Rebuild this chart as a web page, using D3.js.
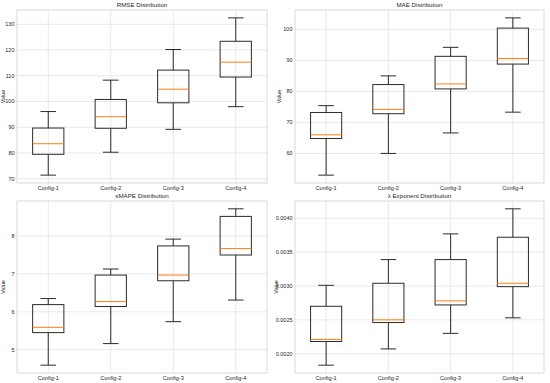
<!DOCTYPE html>
<html><head><meta charset="utf-8">
<script src="https://cdn.jsdelivr.net/npm/d3@7"></script>
<style>body{margin:0;background:#fff}svg{display:block}text{font-family:"Liberation Sans",Arial,sans-serif;fill:#262626}</style>
</head><body><svg id="c" width="550" height="383"></svg>
<script>
const categories = ["Config-1","Config-2","Config-3","Config-4"];
const titles = ["RMSE Distribution","MAE Distribution","sMAPE Distribution","\u03bb Exponent Distribution"];
// each box: [low whisker, Q1, median, Q3, high whisker]
const rmseStats = [[71.4,79.5,83.6,89.7,96.1],[80.3,89.6,94.1,100.8,108.3],[89.2,99.5,104.8,112.2,120.2],[98.0,109.5,115.3,123.4,132.5]];
const maeStats = [[53.0,64.8,66.0,73.2,75.4],[60.0,72.8,74.2,82.2,85.0],[66.6,80.8,82.4,91.3,94.2],[73.3,88.8,90.6,100.4,103.7]];
const smapeStats = [[4.59,5.45,5.59,6.19,6.35],[5.16,6.14,6.27,6.97,7.13],[5.74,6.82,6.97,7.74,7.92],[6.31,7.50,7.67,8.52,8.72]];
const lambdaStats = [[0.00183,0.00218,0.00221,0.00270,0.00301],[0.00207,0.00246,0.00250,0.00304,0.00339],[0.00230,0.00272,0.00278,0.00339,0.00377],[0.00253,0.00299,0.00304,0.00372,0.00414]];
const rmseTicks = [70,80,90,100,110,120,130];
const maeTicks = [60,70,80,90,100];
const smapeTicks = [5,6,7,8];
const lambdaTicks = [0.0020,0.0025,0.0030,0.0035,0.0040];
const tickFormats = [d3.format("d"), d3.format("d"), d3.format("d"), d3.format(".4f")];

const panels = [
  {stats: rmseStats, ticks: rmseTicks, box:[17,10,267,183]},
  {stats: maeStats, ticks: maeTicks, box:[295,10,544,183]},
  {stats: smapeStats, ticks: smapeTicks, box:[17,201,267,373]},
  {stats: lambdaStats, ticks: lambdaTicks, box:[295,201,544,373]}
];
const svg = d3.select("#c");
panels.forEach((p,i)=>{
  const [x0,y0,x1,y1] = p.box;
  const g = svg.append("g");
  const all = p.stats.flat();
  const mn = d3.min(all), mx = d3.max(all), pad = (mx-mn)*0.05;
  const y = d3.scaleLinear().domain([mn-pad, mx+pad]).range([y1,y0]);
  const x = d3.scaleBand().domain(categories).range([x0,x1]);
  const bw = x.bandwidth()*0.5, cw = bw*0.5;
  // grid
  g.selectAll(".hg").data(p.ticks).join("line")
    .attr("x1",x0).attr("x2",x1).attr("y1",d=>y(d)).attr("y2",d=>y(d))
    .attr("stroke","#e3e3e3").attr("stroke-width",0.8);
  g.selectAll(".vg").data(categories).join("line")
    .attr("x1",d=>x(d)+x.bandwidth()/2).attr("x2",d=>x(d)+x.bandwidth()/2).attr("y1",y0).attr("y2",y1)
    .attr("stroke","#e3e3e3").attr("stroke-width",0.8);
  // frame
  g.append("rect").attr("x",x0).attr("y",y0).attr("width",x1-x0).attr("height",y1-y0)
    .attr("fill","none").attr("stroke","#d0d0d0").attr("stroke-width",0.8);
  // boxes
  p.stats.forEach((s,j)=>{
    const cx = x(categories[j]) + x.bandwidth()/2;
    const bg = g.append("g").attr("stroke","#2b2b2b").attr("stroke-width",1).attr("fill","none");
    bg.append("line").attr("x1",cx).attr("x2",cx).attr("y1",y(s[0])).attr("y2",y(s[1]));
    bg.append("line").attr("x1",cx).attr("x2",cx).attr("y1",y(s[3])).attr("y2",y(s[4]));
    bg.append("line").attr("x1",cx-cw/2).attr("x2",cx+cw/2).attr("y1",y(s[0])).attr("y2",y(s[0]));
    bg.append("line").attr("x1",cx-cw/2).attr("x2",cx+cw/2).attr("y1",y(s[4])).attr("y2",y(s[4]));
    bg.append("rect").attr("x",cx-bw/2).attr("y",y(s[3])).attr("width",bw).attr("height",y(s[1])-y(s[3]));
    g.append("line").attr("x1",cx-bw/2).attr("x2",cx+bw/2).attr("y1",y(s[2])).attr("y2",y(s[2]))
      .attr("stroke","#ff7f0e").attr("stroke-width",1);
  });
  // y tick labels
  g.selectAll(".yt").data(p.ticks).join("text")
    .attr("x",x0-2.5).attr("y",d=>y(d)).attr("dy","0.35em").attr("text-anchor","end")
    .attr("font-size",5.5).text(tickFormats[i]);
  // x tick labels
  g.selectAll(".xt").data(categories).join("text")
    .attr("x",d=>x(d)+x.bandwidth()/2).attr("y",y1+6.5).attr("text-anchor","middle")
    .attr("font-size",5.6).text(d=>d);
  // title
  g.append("text").attr("x",(x0+x1)/2).attr("y",y0-3).attr("text-anchor","middle")
    .attr("font-size",6.2).text(titles[i]);
  // y label
  const ly = i===3 ? x0-17.5 : (i===1 ? x0-14 : x0-12);
  g.append("text").attr("transform",`translate(${ly},${(y0+y1)/2}) rotate(-90)`)
    .attr("text-anchor","middle").attr("font-size",5.5).text("Value");
});
</script></body></html>
